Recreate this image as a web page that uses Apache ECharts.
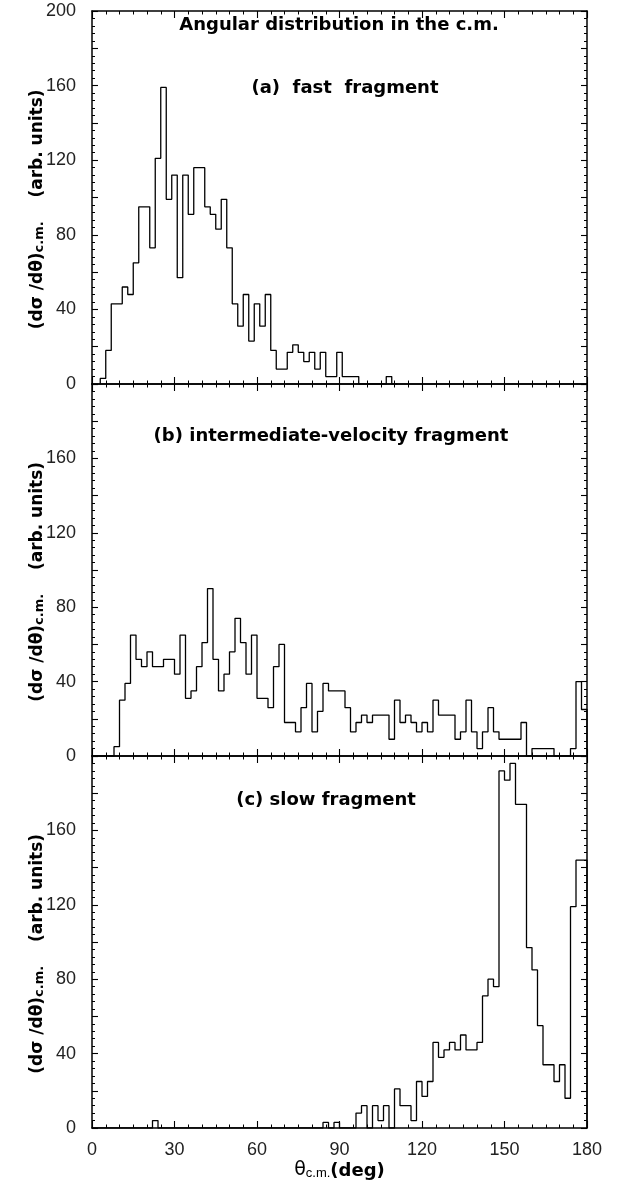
<!DOCTYPE html>
<html>
<head>
<meta charset="utf-8">
<script src="https://cdn.jsdelivr.net/npm/echarts@6/dist/echarts.min.js"></script>
<style>
  html, body { margin: 0; padding: 0; background: #fff; }
  #chart { width: 625px; height: 1190px; }
</style>
</head>
<body>
<div id="chart"></div>
<script>
// Histogram bin width (degrees) and the lower edge of each histogram's first bin
const BIN_WIDTH = 2;
const fastFirstEdge = 3;
const interFirstEdge = 0;
const slowFirstEdge = 0;

// (a) fast fragment, counts per bin
const fastCounts = [
  3, 18, 43, 43, 52, 48, 65, 95, 95, 73,
  121, 159, 99, 112, 57, 112, 91, 116, 116, 95,
  91, 83, 99, 73, 43, 31, 48, 23, 43, 31,
  48, 18, 8, 8, 17, 21, 17, 12, 17, 8,
  17, 4, 4, 17, 4, 4, 4, 0, 0, 0,
  0, 0, 4, 0
];

// (b) intermediate-velocity fragment, counts per bin
const interCounts = [
  0, 0, 0, 0, 5, 30, 39, 65, 52, 48,
  56, 48, 48, 52, 52, 44, 65, 31, 35, 48,
  61, 90, 52, 35, 44, 56, 74, 61, 44, 65,
  31, 31, 26, 48, 60, 18, 18, 13, 26, 39,
  13, 24, 39, 35, 35, 35, 26, 13, 18, 22,
  18, 22, 22, 22, 9, 30, 18, 22, 18, 13,
  18, 13, 30, 22, 22, 22, 9, 13, 30, 13,
  4, 13, 26, 13, 9, 9, 9, 9, 18, 0,
  4, 4, 4, 4, 0, 0, 0, 4, 40, 25
];

// (c) slow fragment, counts per bin
const slowCounts = [
  0, 0, 0, 0, 0, 0, 0, 0, 0, 0,
  0, 4, 0, 0, 0, 0, 0, 0, 0, 0,
  0, 0, 0, 0, 0, 0, 0, 0, 0, 0,
  0, 0, 0, 0, 0, 0, 0, 0, 0, 0,
  0, 0, 3, 0, 3, 0, 0, 0, 8, 12,
  0, 12, 4, 12, 0, 21, 12, 12, 4, 25,
  17, 25, 46, 38, 42, 46, 42, 50, 42, 42,
  46, 71, 80, 76, 192, 187, 196, 174, 174, 97,
  85, 55, 34, 34, 25, 34, 16, 119, 144, 144
];

// Axis ranges and labelled ticks
const thetaTicks = [0, 30, 60, 90, 120, 150, 180];
const yTicksTop = [0, 40, 80, 120, 160, 200];
const yTicksLower = [0, 40, 80, 120, 160];

const panelTitles = [
  'Angular distribution in the c.m.',
  '(a)  fast  fragment',
  '(b) intermediate-velocity fragment',
  '(c) slow fragment'
];

// Turn bin counts into step-line points (outline of the histogram)
function histogramPoints(firstEdge, counts) {
  const pts = [[firstEdge, 0]];
  counts.forEach((v, i) => pts.push([firstEdge + i * BIN_WIDTH, v]));
  pts.push([firstEdge + counts.length * BIN_WIDTH, 0]);
  return pts;
}

const INK = '#000';
const LABEL_FONT = 'Liberation Sans';
const BOLD_FONT = 'DejaVu Sans';

const grids = [
  { left: 92, width: 495, top: 11, height: 373 },
  { left: 92, width: 495, top: 384, height: 372 },
  { left: 92, width: 495, top: 756, height: 372 }
].map(g => Object.assign({ containLabel: false, outerBoundsMode: 'none' }, g));

function tickStyle(len) {
  return { show: true, inside: true, length: len, lineStyle: { color: INK, width: 1.1 } };
}

function xAxisPair(gi, withLabels) {
  const base = {
    type: 'value', gridIndex: gi, min: 0, max: 180, interval: 30,
    splitLine: { show: false }, minorSplitLine: { show: false },
    axisLine: { show: true, onZero: false, lineStyle: { color: INK, width: 1.5 } },
    axisTick: tickStyle(7),
    minorTick: { show: true, splitNumber: 6, length: 3.5, lineStyle: { color: INK, width: 1 } }
  };
  const bottom = Object.assign({}, base, {
    position: 'bottom',
    axisLabel: {
      show: withLabels, margin: 13, color: '#222', fontFamily: LABEL_FONT, fontSize: 18,
      formatter: v => thetaTicks.includes(v) ? String(v) : ''
    }
  });
  if (withLabels) {
    Object.assign(bottom, {
      name: '{th|θ}{s|c.m.}{d|(deg)}',
      nameLocation: 'middle',
      nameGap: 28,
      nameTextStyle: {
        rich: {
          th: { fontFamily: BOLD_FONT, fontSize: 19, color: INK, lineHeight: 24, verticalAlign: 'bottom' },
          s: { fontFamily: LABEL_FONT, fontSize: 13, color: INK, lineHeight: 13, verticalAlign: 'bottom' },
          d: { fontFamily: BOLD_FONT, fontWeight: 'bold', fontSize: 18, color: INK, lineHeight: 24, verticalAlign: 'bottom' }
        }
      }
    });
  }
  const top = Object.assign({}, base, { position: 'top', axisLabel: { show: false } });
  return [bottom, top];
}

function yAxisPair(gi, labelled) {
  const base = {
    type: 'value', gridIndex: gi, min: 0, max: 200, interval: 20,
    splitLine: { show: false }, minorSplitLine: { show: false },
    axisLine: { show: true, onZero: false, lineStyle: { color: INK, width: 1.5 } },
    axisTick: tickStyle(6),
    minorTick: { show: true, splitNumber: 5, length: 3, lineStyle: { color: INK, width: 1 } }
  };
  const left = Object.assign({}, base, {
    position: 'left',
    axisLabel: {
      show: true, margin: 16, color: '#222', fontFamily: LABEL_FONT, fontSize: 18,
      formatter: v => labelled.includes(v) ? String(v) : ''
    },
    name: '{t|(dσ /dθ)}{s|c.m.}{t|    (arb. units)    }',
    nameLocation: 'middle',
    nameRotate: 90,
    nameGap: 46,
    nameMoveOverlap: false,
    nameTextStyle: {
      rich: {
        t: { fontFamily: BOLD_FONT, fontWeight: 'bold', fontSize: 17, color: INK, lineHeight: 23, verticalAlign: 'bottom' },
        s: { fontFamily: BOLD_FONT, fontWeight: 'bold', fontSize: 13, color: INK, lineHeight: 13, verticalAlign: 'bottom' }
      }
    }
  });
  const right = Object.assign({}, base, { position: 'right', axisLabel: { show: false } });
  return [left, right];
}

const xAxes = [].concat(xAxisPair(0, false), xAxisPair(1, false), xAxisPair(2, true));
const yAxes = [].concat(yAxisPair(0, yTicksTop), yAxisPair(1, yTicksLower), yAxisPair(2, yTicksLower));

function histSeries(idx, firstEdge, counts) {
  return {
    type: 'line', step: 'end', symbol: 'none', silent: true,
    xAxisIndex: idx * 2, yAxisIndex: idx * 2,
    lineStyle: { color: INK, width: 1.3 },
    data: histogramPoints(firstEdge, counts)
  };
}

function titleText(text, x, y) {
  return {
    type: 'text', x: x, y: y, silent: true,
    style: {
      text: text, fill: INK, textAlign: 'center', textVerticalAlign: 'middle',
      font: 'bold 18px "DejaVu Sans"'
    }
  };
}

const chart = echarts.init(document.getElementById('chart'), null, { renderer: 'canvas' });
chart.setOption({
  animation: false,
  backgroundColor: '#fff',
  grid: grids,
  xAxis: xAxes,
  yAxis: yAxes,
  series: [
    histSeries(0, fastFirstEdge, fastCounts),
    histSeries(1, interFirstEdge, interCounts),
    histSeries(2, slowFirstEdge, slowCounts)
  ],
  graphic: [
    titleText(panelTitles[0], 339, 25),
    titleText(panelTitles[1], 345, 88),
    titleText(panelTitles[2], 331, 436),
    titleText(panelTitles[3], 326, 800)
  ]
});
</script>
</body>
</html>
